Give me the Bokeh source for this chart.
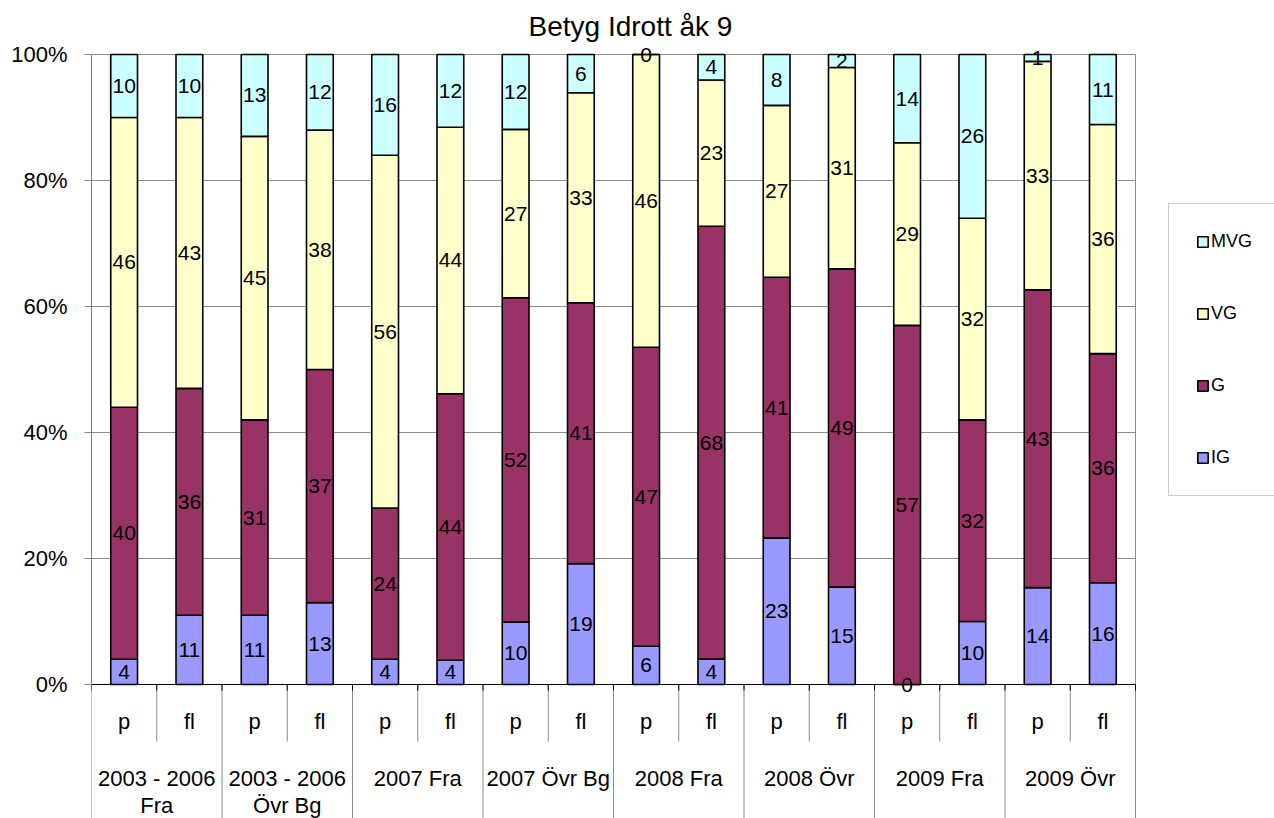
import numpy as np
from bokeh.plotting import figure
from bokeh.models import (Range1d, FixedTicker, NumeralTickFormatter, ColumnDataSource,
                          Legend, LegendItem)
from bokeh.core.properties import value
from bokeh.embed import file_html
from bokeh.resources import INLINE

# ---------------- data ----------------
title_text = "Betyg  Idrott åk 9"
groups = ["2003 - 2006\nFra", "2003 - 2006\nÖvr Bg", "2007 Fra", "2007 Övr Bg",
          "2008 Fra", "2008 Övr", "2009 Fra", "2009 Övr"]
subcats = ["p", "fl"]
series_names = ["IG", "G", "VG", "MVG"]
IG = [4, 11, 11, 13, 4, 4, 10, 19, 6, 4, 23, 15, 0, 10, 14, 16]
G = [40, 36, 31, 37, 24, 44, 52, 41, 47, 68, 41, 49, 57, 32, 43, 36]
VG = [46, 43, 45, 38, 56, 44, 27, 33, 46, 23, 27, 31, 29, 32, 33, 36]
MVG = [10, 10, 13, 12, 16, 12, 12, 6, 0, 4, 8, 2, 14, 26, 1, 11]
colors = ["#9999FF", "#993366", "#FFFFCC", "#CCFFFF"]
y_ticks = [0, 0.2, 0.4, 0.6, 0.8, 1.0]

FONT = "Liberation Sans"
GRID = "#8c8c8c"

n_groups = len(groups)
n = n_groups * len(subcats)
xc = np.arange(n) + 0.5
vals = np.array([IG, G, VG, MVG], dtype=float)
frac = vals / vals.sum(axis=0)
tops = np.cumsum(frac, axis=0)
bottoms = tops - frac

# layout (pixels -> data units)
W, H = 1274, 818
LEFT, TOP = 91, 46
PLOT_W = 1044            # width of the category area in pixels
PX = 630.0               # pixels per 100 %
y_end = 638 / PX
y_start = -134 / PX
x_end = n * (W - LEFT) / PLOT_W   # frame extends to the right edge (legend area)

p = figure(width=W, height=H, output_backend="svg", toolbar_location=None,
           x_range=Range1d(0, x_end), y_range=Range1d(y_start, y_end),
           x_axis_location=None, y_axis_location="left",
           min_border_left=LEFT, min_border_right=0, min_border_top=TOP, min_border_bottom=0,
           title=title_text)
p.outline_line_color = None
p.background_fill_color = "white"
p.border_fill_color = "white"

p.title.align = "left"
p.title.offset = 437
p.title.text_font = FONT
p.title.text_font_size = "28px"
p.title.text_font_style = "normal"
p.title.text_color = "black"
p.title.standoff = 9

p.xgrid.visible = False
p.ygrid.visible = False

ax = p.yaxis[0]
ax.ticker = FixedTicker(ticks=y_ticks)
ax.formatter = NumeralTickFormatter(format="0%")
ax.axis_line_color = None
ax.major_tick_line_color = GRID
ax.major_tick_out = 7
ax.major_tick_in = 0
ax.minor_tick_out = 0
ax.minor_tick_in = 0
ax.major_label_text_font = FONT
ax.major_label_text_font_size = "22px"
ax.major_label_text_color = "black"
ax.major_label_standoff = 17

# horizontal gridlines limited to the plot area
gt = y_ticks[1:]
p.segment(x0=[0] * len(gt), y0=gt, x1=[n] * len(gt), y1=gt, line_color=GRID, line_width=1)

# ---------------- bars ----------------
bar_renderers = []
for i, name in enumerate(series_names):
    src = ColumnDataSource(dict(x=xc, bottom=bottoms[i], top=tops[i]))
    r = p.vbar(x="x", width=0.41, bottom="bottom", top="top", source=src,
               fill_color=colors[i], line_color="black", line_width=1.6)
    bar_renderers.append(r)

for i, name in enumerate(series_names):
    src = ColumnDataSource(dict(x=xc, y=(bottoms[i] + tops[i]) / 2,
                                t=[str(int(v)) for v in vals[i]]))
    p.text(x="x", y="y", text="t", source=src, text_font=value(FONT),
           text_font_size="21px", text_align="center", text_baseline="middle",
           text_color="black")

# ---------------- axis lines & category table ----------------
bounds = np.arange(n + 1)
y_tick = -6 / PX
y_minor = -57 / PX
y_sub = -37 / PX
y_g1 = -94 / PX
y_g2 = -121 / PX

is_group = bounds % len(subcats) == 0
p.segment(x0=bounds[is_group], y0=0, x1=bounds[is_group], y1=y_start,
          line_color=GRID, line_width=1)
p.segment(x0=bounds[~is_group], y0=0, x1=bounds[~is_group], y1=y_minor,
          line_color=GRID, line_width=1)
p.segment(x0=bounds, y0=0, x1=bounds, y1=y_tick, line_color="black", line_width=1)
# right border of plot area
p.segment(x0=[n], y0=[0], x1=[n], y1=[1], line_color=GRID, line_width=1)
# value axis and category axis lines
p.segment(x0=[0], y0=[0], x1=[0], y1=[1], line_color="black", line_width=1)
p.segment(x0=[0], y0=[0], x1=[n], y1=[0], line_color="black", line_width=1)

sub_src = ColumnDataSource(dict(x=xc, y=[y_sub] * n,
                                t=[subcats[i % len(subcats)] for i in range(n)]))
p.text(x="x", y="y", text="t", source=sub_src, text_font=value(FONT),
       text_font_size="22px", text_align="center", text_baseline="middle",
       text_color="black")

gx = np.arange(n_groups) * len(subcats) + len(subcats) / 2
line1 = [g.split("\n")[0] for g in groups]
line2 = [g.split("\n")[1] if "\n" in g else "" for g in groups]
g_src = ColumnDataSource(dict(x=list(gx) * 2, y=[y_g1] * n_groups + [y_g2] * n_groups,
                              t=line1 + line2))
p.text(x="x", y="y", text="t", source=g_src, text_font=value(FONT),
       text_font_size="22px", text_align="center", text_baseline="middle",
       text_color="black")

# ---------------- legend ----------------
items = [LegendItem(label=series_names[i], renderers=[bar_renderers[i]])
         for i in reversed(range(len(series_names)))]
legend = Legend(items=items, location=(1077, 322), orientation="vertical",
                border_line_color="#999999", border_line_width=1,
                background_fill_color="white", background_fill_alpha=1,
                label_text_font=FONT, label_text_font_size="18px",
                label_text_color="black",
                glyph_width=13, glyph_height=13, label_standoff=2,
                padding=27, spacing=51, label_height=16, margin=0)
p.add_layout(legend, "center")

open("out.html", "w").write(file_html(p, INLINE))
